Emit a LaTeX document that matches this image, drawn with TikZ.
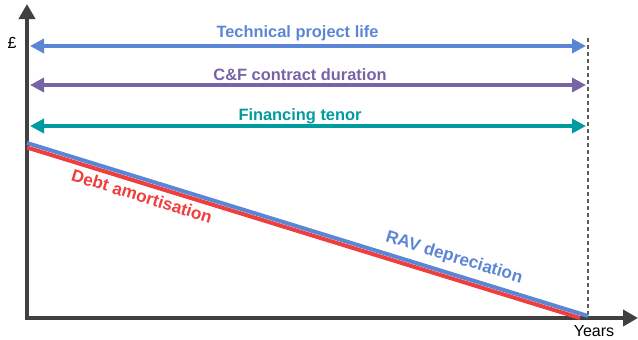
\documentclass[tikz,border=0pt]{standalone}
\usepackage{fontspec}
\setmainfont{Liberation Sans}
\usetikzlibrary{arrows.meta}
\definecolor{axisgray}{RGB}{64,64,64}
\definecolor{techblue}{RGB}{91,134,214}
\definecolor{cfpurple}{RGB}{118,100,166}
\definecolor{finteal}{RGB}{0,155,160}
\definecolor{debtred}{RGB}{240,62,62}
\tikzset{
  axisline/.style={draw=axisgray, line width=4.5pt, -{Triangle[length=15pt,width=16pt]}},
  spanarrow/.style={line width=3.6pt, {Triangle[length=14pt,width=14pt]}-{Triangle[length=14pt,width=14pt]}},
  spanlabel/.style={font=\fontsize{16.4}{19}\selectfont\bfseries, anchor=base, inner sep=0pt},
  slopelabel/.style={font=\fontsize{17.2}{20}\selectfont\bfseries, rotate=-17.13, inner sep=0pt},
  trendline/.style={line width=4pt, line cap=butt},
  endmark/.style={draw=axisgray!85, line width=1.4pt, dash pattern=on 4pt off 3pt},
  plainlabel/.style={font=\fontsize{16}{19}\selectfont, inner sep=0pt}
}
\begin{document}
\begin{tikzpicture}[x=1pt, y=-1pt]
\useasboundingbox (0,0) rectangle (638,340);

% axes
\coordinate (origin) at (27,318);
\coordinate (ytop) at (27,4);
\coordinate (xend) at (638,318);
\draw[axisline] (27,320.2) -- (ytop);
\draw[axisline] (24.8,318) -- (xend);
\node[plainlabel] (pound) at (12,43) {£};
\node[plainlabel] (years) at (594,331) {Years};

% end of the project life
\coordinate (endtop) at (588,38);
\coordinate (endbot) at (588,316);
\draw[endmark] (endtop) -- (endbot);

% duration arrows
\coordinate (techL) at (30,46);   \coordinate (techR) at (586,46);
\coordinate (cfL) at (30,85);     \coordinate (cfR) at (586,85);
\coordinate (finL) at (30,126);   \coordinate (finR) at (586,126);
\draw[spanarrow, techblue] (techL) -- (techR);
\draw[spanarrow, cfpurple] (cfL) -- (cfR);
\draw[spanarrow, finteal] (finL) -- (finR);
\node[spanlabel, text=techblue] (techlbl) at (297.5,37) {Technical project life};
\node[spanlabel, text=cfpurple] (cflbl) at (300,80) {C\&F contract duration};
\node[spanlabel, text=finteal] (finlbl) at (300,120) {Financing tenor};

% declining balances
\coordinate (debtA) at (27,147.5);  \coordinate (debtB) at (580,318);
\coordinate (ravA) at (27,143);     \coordinate (ravB) at (588,316);
\draw[trendline, debtred] (debtA) -- (debtB);
\draw[trendline, techblue] (ravA) -- (ravB);
\node[slopelabel, text=debtred] (debtlbl) at (142,196) {Debt amortisation};
\node[slopelabel, text=techblue] (ravlbl) at (454,258) {RAV depreciation};
\end{tikzpicture}
\end{document}
